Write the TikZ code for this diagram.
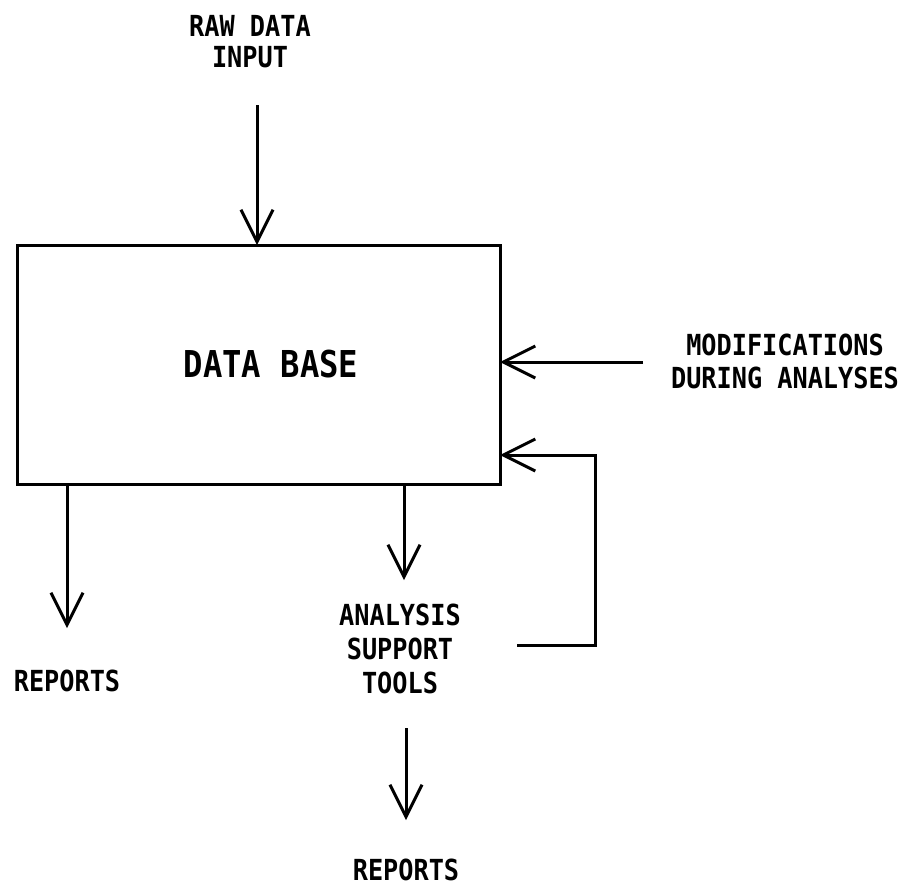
\documentclass[tikz,border=0pt]{standalone}
\usepackage{fontspec}
\newfontfamily\lblfont[FakeStretch=0.87]{DejaVu Sans Mono Bold}
\usetikzlibrary{arrows.meta}
\begin{document}
\begin{tikzpicture}[x=1pt,y=-1pt,
  lbl/.style={font=\lblfont\fontsize{29}{33}\selectfont, align=center, inner sep=0pt},
  conn/.style={line width=3pt},
  arr/.style={conn, -{Straight Barb[length=32pt,width=32pt,line width=3pt]}},
  boxst/.style={draw, line width=3pt, minimum width=483pt, minimum height=239pt, inner sep=0pt}]
\useasboundingbox (0,0) rectangle (916,887);
\node[boxst] (db) at (258.5,364.5) {};
\node[font=\lblfont\fontsize{37}{40}\selectfont, inner sep=0pt] (dbl) at (271,364) {DATA BASE};
\node[lbl, font=\lblfont\fontsize{29}{31}\selectfont] (raw) at (250,42) {RAW DATA\\INPUT};
\node[lbl] (mod) at (785,361) {MODIFICATIONS\\DURING ANALYSES};
\node[lbl] (rep1) at (67,681) {REPORTS};
\node[lbl, font=\lblfont\fontsize{29}{34}\selectfont] (ast) at (400,649) {ANALYSIS\\SUPPORT\\TOOLS};
\node[lbl] (rep2) at (406,870) {REPORTS};
% connectors
\coordinate (rawS) at (257,105);
\coordinate (rawE) at (257,245);
\draw[arr] (rawS) -- (rawE);
\coordinate (modS) at (643,362);
\coordinate (modE) at (500,362);
\draw[arr] (modS) -- (modE);
\coordinate (fbA) at (517,645);
\coordinate (fbB) at (595,645);
\coordinate (fbC) at (595,455);
\coordinate (fbE) at (500,455);
\draw[arr] (fbA) -- (fbB) -- (fbC) -- (fbE);
\coordinate (r1S) at (67,484);
\coordinate (r1E) at (67,628);
\draw[arr] (r1S) -- (r1E);
\coordinate (aS) at (404,484);
\coordinate (aE) at (404,580);
\draw[arr] (aS) -- (aE);
\coordinate (bS) at (406,728);
\coordinate (bE) at (406,820);
\draw[arr] (bS) -- (bE);
\end{tikzpicture}
\end{document}
